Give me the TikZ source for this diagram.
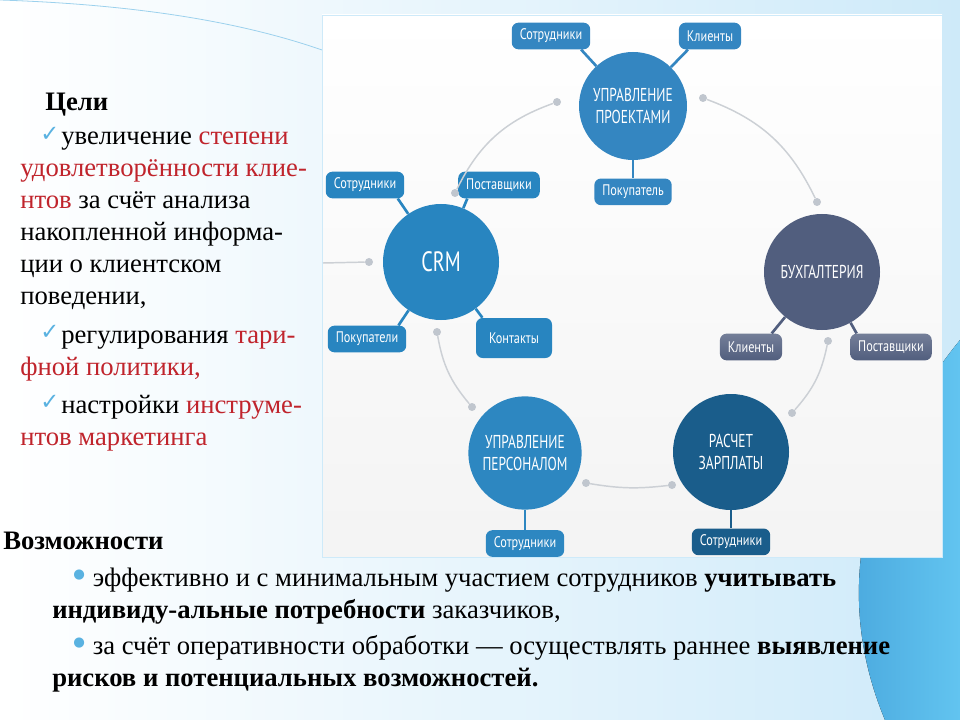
\documentclass[tikz,border=0pt]{standalone}
\usepackage{fontspec}
\setmainfont{Liberation Serif}
\newfontfamily\hubfont[FakeStretch=0.72]{PT Sans}
\newfontfamily\tagfont[FakeStretch=0.8]{PT Sans}
\newfontfamily\symfont{DejaVu Sans}
\usetikzlibrary{positioning}

\definecolor{projblue}{RGB}{52,134,193}
\definecolor{crmblue}{RGB}{40,133,192}
\definecolor{accslate}{RGB}{81,94,126}
\definecolor{paydark}{RGB}{26,93,139}
\definecolor{staffblue}{RGB}{45,135,193}
\definecolor{linkgray}{RGB}{204,208,213}
\definecolor{dotgray}{RGB}{192,198,206}
\definecolor{goalred}{RGB}{192,36,44}
\definecolor{tickblue}{RGB}{90,178,225}
\definecolor{bgblue}{RGB}{206,234,249}
\definecolor{wedgeblue}{RGB}{72,166,220}
\definecolor{wedgelight}{RGB}{98,196,240}

\newcommand{\hl}[1]{\textcolor{goalred}{#1}}
\newcommand{\tick}{{\symfont\fontsize{17}{17}\selectfont\raisebox{2.5pt}{\textcolor{tickblue}{✓}}}\hspace{1.5pt}}
\newcommand{\blt}{{\symfont\fontsize{10}{10}\selectfont\raisebox{5.8pt}{\textcolor{tickblue}{●}}}\hspace{6pt}}

\begin{document}
\begin{tikzpicture}[x=0.75pt,y=-0.75pt,
  hub/.style={circle,inner sep=0pt,minimum size=85pt,text=white,align=center,
    font=\hubfont\fontsize{14}{16.5}\selectfont},
  tag/.style={rectangle,rounded corners=5pt,minimum height=20pt,inner xsep=6pt,
    text=white,font=\tagfont\fontsize{11.5}{13}\selectfont},
  spoke/.style={line width=2pt},
  link/.style={draw=linkgray,line width=1.1pt},
  pin/.style={circle,fill=dotgray,inner sep=0pt,minimum size=6pt},
  body/.style={anchor=base west,align=left,inner sep=0pt,font=\fontsize{20}{24}\selectfont},
]
\useasboundingbox (0,0) rectangle (960,720);

% background
\shade[left color=white,right color=bgblue] (0,0) rectangle (960,720);
\draw[tickblue!60,line width=0.6pt] (0,0) .. controls (150,5) and (250,25) .. (322,50);
\fill[left color=wedgeblue,right color=wedgelight]
  (960,340) .. controls (855,470) and (835,600) .. (885,720) -- (960,720) -- cycle;
\shadedraw[top color=white,bottom color=gray!9,draw=bgblue] (322,15) rectangle (942,557);

% circles
\node[hub,fill=projblue,minimum size=81pt] (proj) at (633,106) {УПРАВЛЕНИЕ\\ПРОЕКТАМИ};
\node[hub,fill=crmblue,minimum size=87pt,font=\hubfont\fontsize{21}{24}\selectfont] (crm) at (441,262) {CRM};
\node[hub,fill=accslate,minimum size=87pt] (acc) at (822,272) {БУХГАЛТЕРИЯ};
\node[hub,fill=paydark,minimum size=87pt] (pay) at (731,452) {РАСЧЕТ\\ЗАРПЛАТЫ};
\node[hub,fill=staffblue,minimum size=85pt] (staff) at (525,453) {УПРАВЛЕНИЕ\\ПЕРСОНАЛОМ};

% labels round the circles
\node[tag,fill=projblue] (projstaff) at (551,36) {Сотрудники};
\node[tag,fill=projblue] (projclient) at (710,36) {Клиенты};
\node[tag,fill=projblue,below=13.5pt of proj] (projbuyer) {Покупатель};
\node[tag,fill=crmblue] (crmstaff) at (365,185) {Сотрудники};
\node[tag,fill=crmblue] (crmsupp) at (499,185) {Поставщики};
\node[tag,fill=crmblue] (crmbuyer) at (367,339) {Покупатели};
\node[tag,fill=crmblue,minimum height=30pt,minimum width=57pt] (crmcontact) at (514,338) {Контакты};
\node[tag,top color=accslate!80,bottom color=accslate] (accclient) at (751,347) {Клиенты};
\node[tag,top color=accslate!80,bottom color=accslate] (accsupp) at (891,347) {Поставщики};
\node[tag,fill=staffblue,below=15pt of staff] (staffstaff) {Сотрудники};
\node[tag,fill=paydark,below=13.5pt of pay] (paystaff) {Сотрудники};

\draw[spoke,projblue] ([xshift=-7pt]projstaff.south east) -- (proj);
\draw[spoke,projblue] ([xshift=7pt]projclient.south west) -- (proj);
\draw[spoke,projblue] (proj) -- (projbuyer);
\draw[spoke,crmblue] ([xshift=-5pt]crmstaff.south east) -- (crm);
\draw[spoke,crmblue] ([xshift=7pt]crmsupp.south west) -- (crm);
\draw[spoke,crmblue] ([xshift=-6pt]crmbuyer.north east) -- (crm);
\draw[spoke,crmblue] ([xshift=5pt]crmcontact.north west) -- (crm);
\draw[spoke,accslate] ([xshift=-8pt]accclient.north east) -- (acc);
\draw[spoke,accslate] ([xshift=5pt]accsupp.north west) -- (acc);
\draw[spoke,staffblue] (staff) -- (staffstaff);
\draw[spoke,paydark] (pay) -- (paystaff);

% grey ring
\node[pin] (d1) at (455,193) {};
\node[pin] (d2) at (557,102) {};
\node[pin] (d3) at (703,98) {};
\node[pin] (d4) at (817,202) {};
\node[pin] (d5) at (828,341) {};
\node[pin] (d6) at (792,413) {};
\node[pin] (d7) at (672,485) {};
\node[pin] (d8) at (586,483) {};
\node[pin] (d9) at (472,407) {};
\node[pin] (d10) at (437,332) {};
\node[pin] (d11) at (369,262) {};
\coordinate (edge) at (323,263);

\path[link]
  (d1) edge[bend left=22] (d2)
  (d3) edge[bend left=22] (d4)
  (d5) edge[bend left=15] (d6)
  (d7) edge[bend left=8] (d8)
  (d9) edge[bend left=15] (d10)
  (edge) edge (d11);

% goals (base anchor sits on the last line)
\node[body,font=\bfseries\fontsize{20}{24}\selectfont] (goals) at (45,111) {Цели};
\node[body] (goal1) at (20,305) {\hspace*{15pt}\tick увеличение \hl{степени}\\
  \hl{удовлетворённости клие-}\\
  \hl{нтов} за счёт анализа\\
  накопленной информа-\\
  ции о клиентском\\
  поведении,};
\node[body] (goal2) at (20,375) {\hspace*{15pt}\tick регулирования \hl{тари-}\\
  \hl{фной политики,}};
\node[body] (goal3) at (20,445) {\hspace*{15pt}\tick настройки \hl{инструме-}\\
  \hl{нтов маркетинга}};

% options
\node[body,font=\bfseries\fontsize{20}{24}\selectfont] (chances) at (3,549) {Возможности};
\node[body] (chance1) at (52,618) {\hspace*{15.75pt}\blt эффективно и с минимальным участием сотрудников \textbf{учитывать}\\
  \textbf{индивиду-альные потребности} заказчиков,};
\node[body] (chance2) at (52,686) {\hspace*{15.75pt}\blt за счёт оперативности обработки — осуществлять раннее \textbf{выявление}\\
  \textbf{рисков и потенциальных возможностей.}};
\end{tikzpicture}
\end{document}
